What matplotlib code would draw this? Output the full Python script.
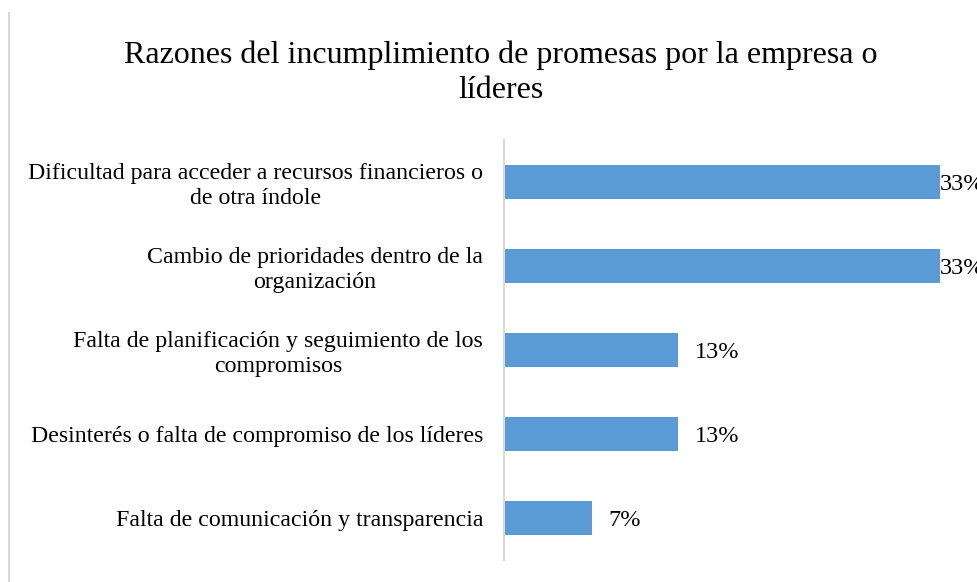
import matplotlib
matplotlib.use('agg')
import matplotlib.pyplot as plt
from matplotlib.lines import Line2D

plt.rcParams['font.family'] = ['Liberation Serif', 'DejaVu Serif']

# data (top to bottom as shown)
categories = [
    'Dificultad para acceder a recursos financieros o\nde otra índole',
    'Cambio de prioridades dentro de la\norganización',
    'Falta de planificación y seguimiento de los\ncompromisos',
    'Desinterés o falta de compromiso de los líderes',
    'Falta de comunicación y transparencia',
]
values = [0.333, 0.333, 0.133, 0.133, 0.067]
labels = ['33%', '33%', '13%', '13%', '7%']

title = 'Razones del incumplimiento de promesas por la empresa o\nlíderes'

W, H = 978, 582
fig = plt.figure(figsize=(W / 100, H / 100), dpi=100)
ax = fig.add_axes([504 / W, 1 - 560 / H, 474 / W, 420 / H])

pos = list(range(len(categories)))[::-1]
ax.barh(pos, values, height=0.405, color='#5b9bd5')
ax.set_xlim(0, 474 / 1308)
ax.set_ylim(-0.5, len(categories) - 0.5)
ax.set_yticks(pos)
ax.set_yticklabels(categories, fontsize=17.2, multialignment='center')
ax.tick_params(axis='y', length=0, pad=15)
ax.set_xticks([])
for s in ['top', 'right', 'bottom']:
    ax.spines[s].set_visible(False)
ax.spines['left'].set_color('#d9d9d9')
ax.spines['left'].set_linewidth(1.5)

for p, v, lab in zip(pos, values, labels):
    off = 0 if v > 0.3 else 17
    ax.annotate(lab, (v, p), xytext=(off * 0.72, -1.5), textcoords='offset points',
                va='center', ha='left', fontsize=17.5, annotation_clip=False)

fig.text(501 / W, 1 - 73 / H, title, ha='center', va='center', fontsize=23,
         linespacing=1.28)

# chart border on left edge
fig.add_artist(Line2D([8.5 / W, 8.5 / W], [0, 1 - 13 / H], transform=fig.transFigure,
                      color='#d9d9d9', lw=1.5))

fig.savefig('out.png', dpi=100)
